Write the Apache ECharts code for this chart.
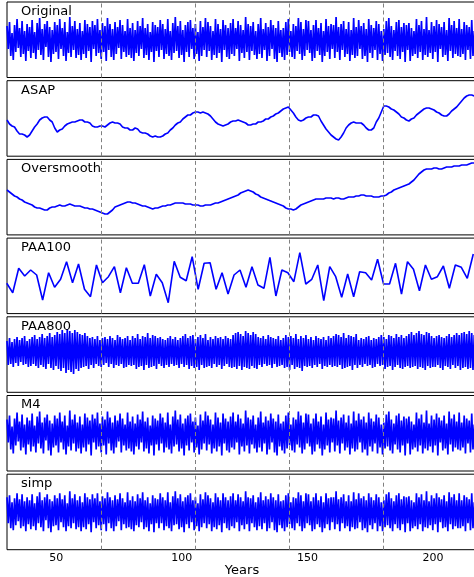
<!DOCTYPE html>
<html>
<head>
<meta charset="utf-8">
<script src="https://cdn.jsdelivr.net/npm/echarts@6/dist/echarts.min.js"></script>
<style>
  html, body { margin: 0; padding: 0; background: #fff; }
  #chart { width: 474px; height: 577px; }
</style>
</head>
<body>
<div id="chart"></div>
<script>
// Panel names, top to bottom
const panelNames = ['Original', 'ASAP', 'Oversmooth', 'PAA100', 'PAA800', 'M4', 'simp'];

// Shared time axis
const tickLabels = [50, 100, 150, 200];
const markerYears = [67.8, 105.3, 142.8, 180.3];

// Full-resolution series (two samples per year from 30.4)
const denseStart = 30.4, denseStep = 0.5;
const original = [
  14,-9,18,-16,7,-20,15,-12,21,-8,12,-17,19,-14,9,-21,16,-11,13,-18,
  20,-13,8,-19,17,-10,22,-15,11,-20,16,-7,19,-17,13,-22,10,-14,18,-12,
  15,-19,21,-9,12,-16,18,-21,8,-13,23,-17,14,-10,19,-18,11,-15,17,-20,
  9,-14,20,-18,16,-11,13,-22,19,-9,15,-16,21,-13,10,-19,17,-12,14,-21,
  22,-10,16,-17,11,-20,18,-14,13,-8,20,-19,15,-12,9,-17,21,-15,12,-18,
  17,-21,10,-13,19,-16,14,-9,22,-18,12,-15,16,-20,8,-12,18,-22,15,-11,
  13,-17,20,-10,16,-19,11,-14,21,-16,9,-20,17,-13,23,-11,14,-18,19,-15,
  10,-22,15,-12,18,-17,20,-9,12,-19,16,-14,8,-21,19,-16,13,-10,22,-17,
  18,-11,14,-20,9,-15,21,-18,16,-13,11,-22,20,-10,15,-17,12,-19,17,-14,
  21,-16,12,-9,19,-21,15,-13,10,-18,23,-12,16,-20,14,-11,18,-15,9,-19,
  16,-14,22,-18,11,-10,17,-21,13,-16,20,-9,15,-19,12,-22,19,-13,10,-17,
  12,-20,18,-15,21,-12,9,-17,16,-19,14,-11,22,-14,18,-20,11,-16,20,-10,
  19,-13,10,-21,15,-18,20,-11,12,-15,17,-22,9,-16,21,-12,14,-19,16,-9,
  15,-18,23,-12,13,-20,16,-10,19,-17,11,-14,18,-21,10,-15,22,-18,13,-16,
  20,-9,14,-19,17,-16,11,-22,21,-13,15,-18,12,-10,19,-20,16,-14,9,-21,
  11,-15,19,-13,22,-17,14,-20,10,-11,18,-16,20,-19,13,-12,17,-22,15,-10,
  17,-21,12,-16,9,-14,21,-18,15,-12,19,-20,11,-15,23,-17,10,-13,18,-19,
  14,-12,20,-22,16,-9,13,-17,18,-15,10,-21,22,-11,15,-18,19,-14,12,-16,
  21,-17,11,-14,18,-20,15,-10,13,-19,20,-16,9,-22,17,-13,14,-18,16,-12
];
// M4 keeps the per-column extremes, so it traces the same values
const m4 = original;

const paa800 = [
  11,-13,14,-12,10,-15,13,-11,15,-14,12,-10,14,-13,16,-12,11,-15,13,-14,
  15,-12,17,-14,13,-16,15,-13,18,-15,14,-17,16,-12,19,-16,15,-18,17,-14,
  20,-17,18,-19,22,-16,19,-21,23,-18,21,-20,19,-22,22,-17,20,-19,18,-16,
  17,-15,19,-14,16,-17,14,-13,15,-16,13,-12,16,-14,12,-15,14,-13,15,-11,
  13,-15,16,-12,14,-16,12,-13,17,-14,15,-12,13,-16,14,-15,16,-13,12,-14,
  16,-13,14,-17,18,-15,13,-14,16,-18,15,-13,19,-16,14,-15,17,-14,16,-17,
  14,-12,15,-14,13,-16,12,-13,14,-15,16,-12,13,-14,15,-13,12,-16,14,-12,
  16,-15,18,-13,14,-17,16,-14,17,-16,13,-15,15,-18,17,-13,14,-16,18,-15,
  12,-14,15,-16,13,-12,16,-15,14,-13,15,-17,13,-14,16,-12,14,-15,13,-16,
  17,-15,19,-17,20,-14,18,-18,16,-15,21,-16,19,-17,17,-14,20,-16,18,-17,
  15,-13,14,-15,16,-12,13,-14,17,-13,15,-16,14,-12,13,-15,16,-14,12,-13,
  14,-16,17,-15,15,-18,16,-13,14,-17,18,-15,13,-16,16,-19,14,-14,17,-15,
  13,-14,15,-16,12,-13,16,-15,14,-12,13,-17,15,-14,12,-15,16,-13,14,-15,
  16,-14,18,-15,17,-13,15,-17,19,-16,14,-15,17,-14,16,-18,15,-13,18,-16,
  12,-13,14,-15,13,-12,15,-14,16,-13,12,-16,14,-15,13,-12,15,-14,17,-13,
  15,-17,13,-15,17,-14,16,-18,14,-15,18,-13,15,-16,17,-17,14,-15,16,-14,
  18,-16,20,-15,17,-14,19,-17,21,-15,18,-16,17,-18,20,-14,19,-16,16,-15,
  14,-15,16,-13,17,-16,15,-18,14,-14,16,-15,18,-17,15,-13,17,-16,19,-14,
  17,-18,19,-16,20,-15,18,-17,21,-16,19,-18,17,-15,20,-17,18,-16,19,-15
];

const simp = [
  15,-11,17,-16,10,-18,14,-13,19,-9,13,-16,18,-14,11,-19,15,-12,12,-17,
  18,-14,9,-18,16,-11,20,-15,12,-19,15,-8,18,-16,13,-20,11,-14,17,-13,
  14,-18,19,-10,13,-15,17,-19,9,-14,21,-16,14,-11,18,-17,12,-15,16,-19,
  10,-15,19,-17,15,-12,13,-20,18,-10,14,-16,19,-13,11,-18,16,-12,14,-19,
  20,-11,15,-16,12,-19,17,-14,13,-9,19,-18,14,-12,10,-16,20,-15,12,-17,
  16,-19,11,-13,18,-15,14,-10,20,-17,12,-15,15,-19,9,-12,17,-20,14,-11,
  13,-16,19,-11,15,-18,12,-14,20,-16,10,-19,16,-13,21,-12,14,-17,18,-15,
  11,-20,15,-12,17,-16,19,-10,12,-18,15,-14,9,-19,18,-15,13,-11,20,-16,
  17,-12,14,-19,10,-15,19,-17,15,-13,12,-20,19,-11,15,-16,12,-18,16,-14,
  19,-16,12,-10,18,-19,15,-13,11,-17,21,-12,15,-19,14,-11,17,-15,10,-18,
  15,-14,20,-17,12,-11,16,-19,13,-16,19,-10,15,-18,12,-20,18,-13,11,-16,
  12,-19,17,-15,19,-12,10,-16,15,-18,14,-11,20,-14,17,-19,11,-16,19,-11,
  18,-13,11,-19,15,-17,19,-12,12,-15,16,-20,10,-16,19,-12,14,-18,15,-10,
  15,-17,21,-12,13,-19,15,-11,18,-16,11,-14,17,-19,11,-15,20,-17,13,-16,
  19,-10,14,-18,16,-16,12,-20,19,-13,15,-17,12,-11,18,-19,15,-14,10,-19,
  12,-15,18,-13,20,-16,14,-19,11,-12,17,-16,19,-18,13,-12,16,-20,15,-11,
  16,-19,12,-16,10,-14,19,-17,15,-12,18,-19,12,-15,21,-16,11,-13,17,-18,
  14,-12,19,-20,15,-10,13,-16,17,-15,11,-19,20,-12,15,-17,18,-14,12,-16,
  19,-16,12,-14,17,-19,15,-11,13,-18,19,-16,10,-20,16,-13,14,-17,15,-12
];

// Smoothed series (one sample per year from 30.4)
const smoothStart = 30.4, smoothStep = 1.0;
const asap = [
  -2,-6,-8,-9,-13,-16,-16,-17,-19,-17,-13,-9,-6,-2,0,1,1,-2,-4,-10,
  -14,-12,-11,-8,-6,-5,-4,-4,-3,-2,-2,-4,-4,-5,-8,-9,-9,-8,-8,-9,
  -7,-5,-4,-5,-5,-6,-9,-10,-10,-12,-12,-10,-11,-14,-15,-15,-16,-18,-19,-18,
  -19,-19,-18,-16,-15,-12,-10,-7,-5,-4,-1,1,3,3,5,6,6,5,6,5,
  4,2,-1,-4,-6,-7,-8,-7,-6,-4,-3,-3,-2,-3,-4,-5,-7,-7,-6,-6,
  -4,-4,-3,-1,-1,1,2,4,5,7,9,10,11,8,5,1,-2,-3,-2,0,
  1,1,3,3,2,-3,-7,-11,-14,-17,-19,-21,-22,-19,-15,-10,-7,-5,-4,-5,
  -5,-5,-7,-10,-12,-12,-10,-4,0,6,12,12,11,9,8,6,4,1,0,-2,
  -3,-1,0,3,5,7,9,10,10,9,8,6,5,3,2,2,4,7,9,11,
  14,17,20,22,23,23,22
];
const oversmooth = [
  7,5,3,1,0,-2,-3,-5,-6,-7,-8,-10,-11,-11,-12,-13,-13,-11,-10,-10,
  -9,-8,-9,-9,-8,-7,-8,-9,-9,-9,-10,-11,-11,-12,-12,-13,-14,-15,-16,-17,
  -17,-15,-13,-10,-9,-8,-7,-6,-5,-5,-6,-6,-7,-8,-9,-9,-10,-11,-12,-11,
  -11,-10,-9,-9,-8,-8,-7,-6,-6,-6,-6,-7,-7,-7,-8,-8,-8,-9,-9,-8,
  -8,-8,-7,-6,-6,-5,-4,-3,-2,-1,0,1,2,4,5,6,7,6,5,3,
  2,0,-1,-2,-3,-4,-5,-6,-7,-8,-9,-11,-12,-12,-13,-12,-10,-8,-7,-6,
  -5,-4,-3,-2,-2,-2,-2,-1,-1,-1,-2,-1,-1,-2,-2,-1,0,0,0,1,
  1,2,2,1,1,1,0,0,0,1,1,2,4,5,7,8,9,10,11,12,
  13,15,17,20,23,25,27,28,28,28,29,29,28,28,29,30,30,30,31,31,
  31,32,32,32,33,34,34
];

// Piecewise aggregate approximation, 100 segments
const paaStart = 30.3, paaStep = 2.381;
const paa100 = [
  -7.3,-16.7,7.7,0,6,1,-24,3.3,-11.3,-3.3,
  14.3,-6.7,12,-13.3,-20.7,11,-6.7,-0.7,9.3,-16.7,
  8.3,-7.3,-7.3,11.3,-20,1.7,-6.7,-26.7,14.7,-1.3,
  -4.7,19.3,-13.3,12.7,13.3,-13.3,3.3,-18,1,6,
  -11.3,9.3,-9,-12.3,18.7,-20,6,3.3,-5.7,23.3,
  -8,-3.3,11,-24.7,9.3,-0.7,-21.3,2,-20.7,4.3,
  3.3,-4,16.7,-8,-8,12.7,-18,14.3,6.7,-14.7,
  11,-3.3,-0.7,10,-12.3,11,8.7,-2.3,22
];

function withYears(values, start, step) {
  return values.map((v, i) => [start + i * step, v]);
}

const panelData = [
  withYears(original, denseStart, denseStep),
  withYears(asap, smoothStart, smoothStep),
  withYears(oversmooth, smoothStart, smoothStep),
  withYears(paa100, paaStart, paaStep),
  withYears(paa800, denseStart, denseStep),
  withYears(m4, denseStart, denseStep),
  withYears(simp, denseStart, denseStep)
];
const isDense = [true, false, false, false, true, true, true];

// Layout
const panelTop0 = 2, panelPitch = 78.7, panelHeight = 75.5;
const yRanges = [
  [-37.5, 38], [-38.2, 37.3], [-37.9, 37.6], [-37.6, 37.9],
  [-40.3, 35.2], [-37.5, 38], [-37.5, 38]
];
const font = 'DejaVu Sans';
const last = panelNames.length - 1;

const option = {
  animation: false,
  backgroundColor: '#ffffff',
  title: panelNames.map((name, i) => ({
    text: name,
    left: 21,
    top: panelTop0 + panelPitch * i + 3,
    padding: 0,
    textStyle: { fontFamily: font, fontSize: 13, fontWeight: 'normal', color: '#000' }
  })),
  grid: panelNames.map((_, i) => ({
    left: 7,
    right: -3,
    top: panelTop0 + panelPitch * i,
    height: panelHeight,
    outerBoundsMode: 'none',
    containLabel: false,
    show: true,
    borderColor: '#000',
    borderWidth: 1,
    backgroundColor: 'transparent'
  })),
  xAxis: panelNames.map((_, i) => ({
    gridIndex: i,
    type: 'value',
    min: 30.4,
    max: 217.5,
    axisLine: { show: false },
    splitLine: { show: false },
    axisTick: { show: false },
    axisLabel: {
      show: i === last,
      customValues: tickLabels,
      fontFamily: font,
      fontSize: 11,
      color: '#000',
      margin: 3
    },
    name: i === last ? 'Years' : '',
    nameLocation: 'middle',
    nameGap: 14,
    nameTextStyle: { fontFamily: font, fontSize: 13, color: '#000' }
  })),
  yAxis: panelNames.map((_, i) => ({
    gridIndex: i,
    type: 'value',
    min: yRanges[i][0],
    max: yRanges[i][1],
    show: false
  })),
  series: panelData.map((data, i) => ({
    type: 'line',
    name: panelNames[i],
    xAxisIndex: i,
    yAxisIndex: i,
    data: data,
    showSymbol: false,
    symbol: 'none',
    clip: true,
    lineStyle: { color: '#0000ff', width: isDense[i] ? 1.7 : 1.6 },
    markLine: {
      silent: true,
      symbol: ['none', 'none'],
      label: { show: false },
      lineStyle: { color: '#808080', type: [4, 3], width: 1 },
      data: markerYears.map(x => ({ xAxis: x }))
    }
  }))
};

const chart = echarts.init(document.getElementById('chart'), null, { renderer: 'canvas' });
chart.setOption(option);
</script>
</body>
</html>
